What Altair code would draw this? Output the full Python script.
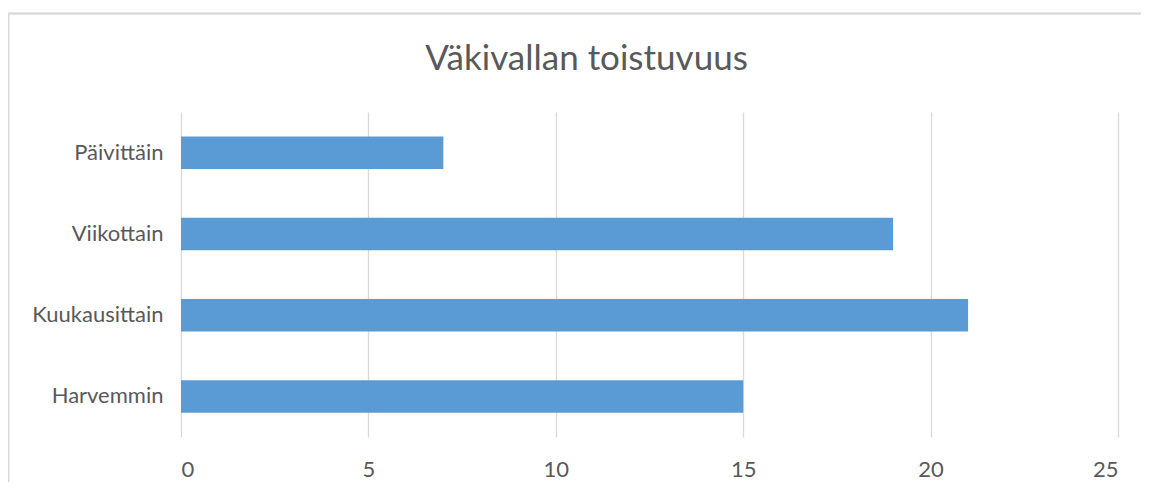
import altair as alt
import pandas as pd

categories = ["Päivittäin", "Viikottain", "Kuukausittain", "Harvemmin"]
values = [7, 19, 21, 15]
x_ticks = [0, 5, 10, 15, 20, 25]
title_text = "Väkivallan toistuvuus"

df = pd.DataFrame({"cat": categories, "val": values})

FONT = "Lato"
TXT = "#595959"

bars = alt.Chart(df).mark_bar(color="#5B9BD5").encode(
    x=alt.X("val:Q", scale=alt.Scale(domain=[0, 25], nice=False),
            axis=alt.Axis(values=x_ticks, title=None, domain=False, ticks=False,
                          grid=True, gridColor="#d9d9d9", gridWidth=1.3,
                          labelFont=FONT, labelFontSize=22, labelColor=TXT,
                          labelPadding=22)),
    y=alt.Y("cat:N", sort=categories,
            scale=alt.Scale(paddingInner=0.6, paddingOuter=0.3),
            axis=alt.Axis(title=None, domain=False, ticks=False, grid=False,
                          labelFont=FONT, labelFontSize=22, labelColor=TXT,
                          labelPadding=18)),
)

border = alt.Chart(df).mark_rect(fill=None, stroke="#d9d9d9", strokeWidth=1.3).encode(
    x=alt.value(-172.5), x2=alt.value(3000), y=alt.value(-98.5), y2=alt.value(3000)
)

chart = alt.layer(border, bars).properties(
    width=937, height=325,
    title=alt.TitleParams(title_text, font=FONT, fontSize=35, color=TXT,
                          fontWeight="normal", anchor="middle", frame="group",
                          dx=-63, offset=-64),
    autosize=alt.AutoSizeParams(type="none"),
    padding={"left": 173, "top": 104, "right": 23, "bottom": 45},
).configure_view(stroke=None)

chart.save("out.html", embed_options={"renderer": "svg", "actions": False})
